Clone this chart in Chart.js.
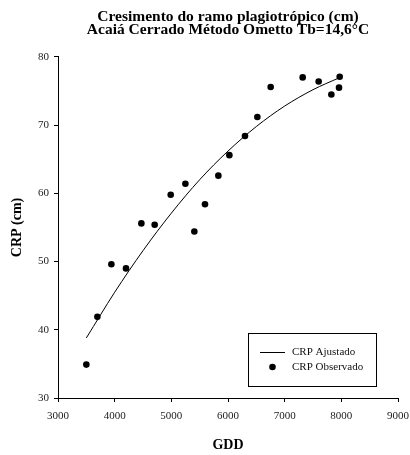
<!DOCTYPE html>
<html>
<head>
<meta charset="utf-8">
<script src="https://cdn.jsdelivr.net/npm/chart.js@4/dist/chart.umd.min.js"></script>
<style>
  html, body { margin: 0; padding: 0; background: #fff; }
  #wrap { width: 410px; height: 455px; }
</style>
</head>
<body>
<div id="wrap"><canvas id="crp"></canvas></div>
<script>
// valeurs observées (GDD, CRP en cm)
const gddObs = [3500, 3695, 3942, 4200, 4471, 4706, 4989, 5248, 5406, 5594, 5830, 6024, 6300, 6518, 6753, 7318, 7600, 7824, 7959, 7971];
const crpObs = [34.9, 41.9, 49.6, 49.0, 55.6, 55.4, 59.8, 61.4, 54.4, 58.4, 62.6, 65.6, 68.4, 71.2, 75.6, 77.0, 76.4, 74.5, 75.5, 77.1];

// courbe ajustée
const gddFit = [3500, 4000, 4500, 5000, 5500, 6000, 6500, 7000, 7500, 7950];
const crpFit = [38.8, 45.5, 51.6, 57.1, 62.0, 66.2, 69.8, 72.8, 75.2, 76.9];

// graduations
const xTicks = [3000, 4000, 5000, 6000, 7000, 8000, 9000];
const yTicks = [30, 40, 50, 60, 70, 80];

const serif = '"Liberation Serif", "Times New Roman", serif';

// légende encadrée dans le coin bas droit
const legendBox = {
    id: 'legendBox',
    afterDraw(chart) {
        const c = chart.ctx;
        const a = chart.chartArea;
        const x0 = a.right - 150, y0 = a.bottom - 65, w = 128, h = 53;
        c.save();
        c.strokeStyle = '#000';
        c.lineWidth = 1;
        c.strokeRect(x0 + 0.5, y0 + 0.5, w, h);
        // ligne
        c.beginPath();
        c.moveTo(x0 + 12, y0 + 19.5);
        c.lineTo(x0 + 37, y0 + 19.5);
        c.stroke();
        // point
        c.fillStyle = '#000';
        c.beginPath();
        c.arc(x0 + 24.5, y0 + 34, 3.3, 0, Math.PI * 2);
        c.fill();
        c.font = '11px ' + serif;
        c.textBaseline = 'middle';
        c.fillStyle = '#111';
        c.fillText(chart.data.datasets[0].label, x0 + 44, y0 + 19.5);
        c.fillText(chart.data.datasets[1].label, x0 + 44, y0 + 34);
        c.restore();
    }
};

var ctx = document.getElementById('crp').getContext('2d');
var crpChart = new Chart(ctx, {
    type: 'scatter',
    data: {
        datasets: [{
            label: 'CRP Ajustado',
            type: 'line',
            data: gddFit.map((g, i) => ({ x: g, y: crpFit[i] })),
            borderColor: '#000',
            borderWidth: 1,
            pointRadius: 0,
            tension: 0.4,
            cubicInterpolationMode: 'monotone',
            fill: false
        }, {
            label: 'CRP Observado',
            data: gddObs.map((g, i) => ({ x: g, y: crpObs[i] })),
            backgroundColor: '#000',
            borderColor: '#000',
            pointRadius: 3.3,
            pointBorderWidth: 0
        }]
    },
    options: {
        responsive: true,
        maintainAspectRatio: false,
        animation: false,
        layout: { padding: { left: 4.5, right: 0, top: 0, bottom: 0 } },
        scales: {
            x: {
                min: 3000,
                max: 9000,
                afterBuildTicks: s => { s.ticks = xTicks.map(v => ({ value: v })); },
                grid: { drawOnChartArea: false, tickLength: 4, color: '#000' },
                border: { color: '#000', width: 1 },
                ticks: { color: '#222', padding: 8, maxRotation: 0, callback: v => String(v), font: { family: serif, size: 11 } },
                title: { display: true, text: 'GDD', color: '#000', padding: { top: 12, bottom: 1 }, font: { family: serif, size: 14, weight: 'bold' } },
                afterFit: s => { s.height = 57; s.paddingRight = 12; }
            },
            y: {
                min: 30,
                max: 80,
                afterBuildTicks: s => { s.ticks = yTicks.map(v => ({ value: v })); },
                grid: { drawOnChartArea: false, tickLength: 4, color: '#000' },
                border: { color: '#000', width: 1 },
                ticks: { color: '#222', padding: 5, font: { family: serif, size: 11 } },
                title: { display: true, text: 'CRP (cm)', color: '#000', padding: { bottom: 5 }, font: { family: serif, size: 14, weight: 'bold' } },
                afterFit: s => { s.width = 53.5; }
            }
        },
        plugins: {
            legend: { display: false },
            tooltip: { enabled: false },
            title: {
                display: true,
                fullSize: false,
                text: ['Cresimento do ramo plagiotrópico (cm)', 'Acaiá Cerrado Método Ometto Tb=14,6°C'],
                color: '#000',
                font: { family: serif, size: 15.5, weight: 'bold', lineHeight: 0.85 },
                padding: { top: 10, bottom: 20.6 }
            }
        }
    },
    plugins: [legendBox]
});
</script>
</body>
</html>
